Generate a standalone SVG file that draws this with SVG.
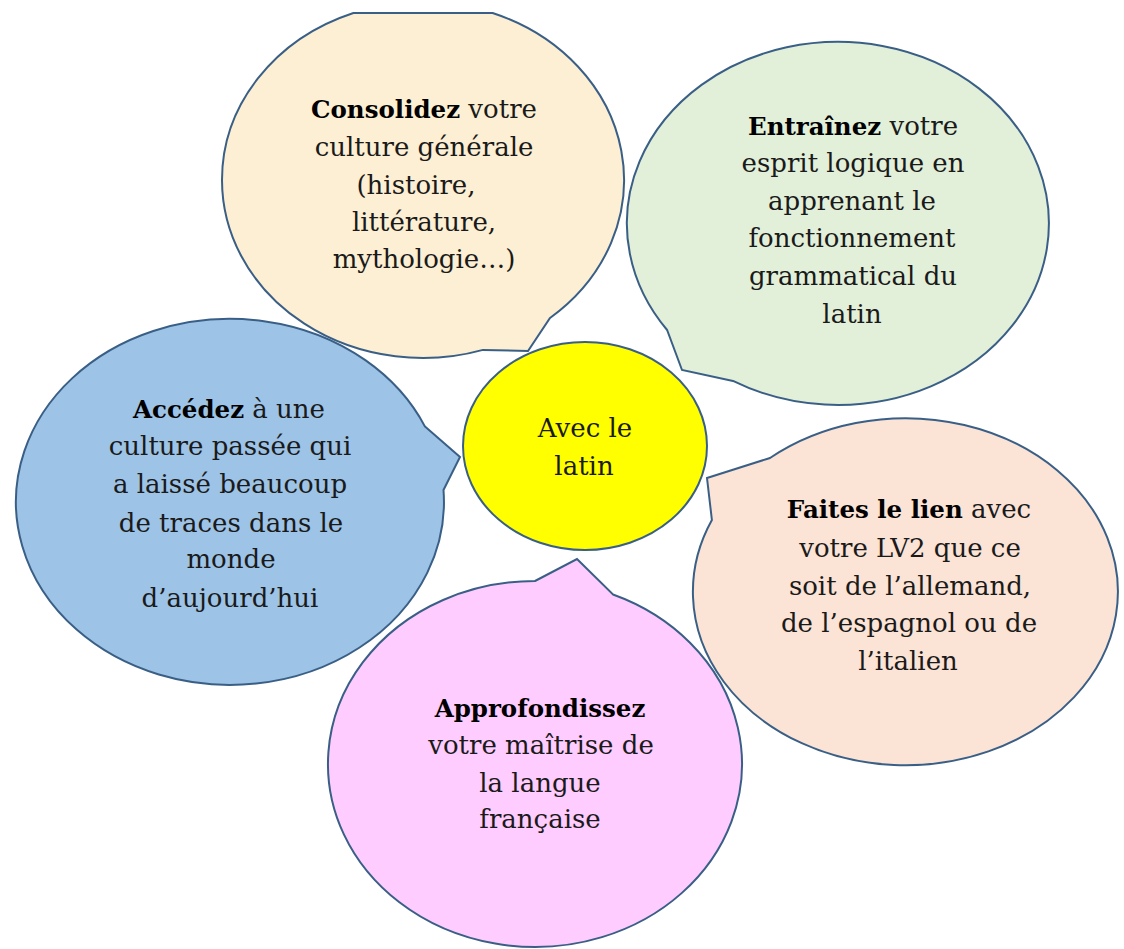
<svg xmlns="http://www.w3.org/2000/svg" width="1124" height="949" viewBox="0 0 1124 949">
<style>
.b{stroke:#3A5F86;stroke-width:2;stroke-linejoin:miter}
.t{font-family:"DejaVu Serif","Liberation Serif",serif;font-size:26px;fill:#1a1a1a;text-anchor:middle}
.k{font-weight:bold;fill:#000;font-size:24.5px}
</style>
<rect width="1124" height="949" fill="#ffffff"/>
<g id="connectors"></g>
<g id="consolidez">
<path class="b" fill="#FDEFD3" d="M353.4,13 L492.6,13 A201,178 0 0 1 550,318 L528,351 L483,349.9 A201,178 0 0 1 222,180 A201,178 0 0 1 353.4,13 Z"/>
<text class="t"><tspan x="424" y="118"><tspan class="k">Consolidez</tspan> votre</tspan><tspan x="424" y="156">culture générale</tspan><tspan x="416" y="194">(histoire,</tspan><tspan x="424" y="231">littérature,</tspan><tspan x="424" y="268">mythologie…)</tspan></text>
</g>
<g id="entrainez">
<path class="b" fill="#E2EFD9" d="M733,380.9 L682,370 L667.1,330 A211,181.5 0 1 1 733,380.9 Z"/>
<text class="t"><tspan x="853" y="135"><tspan class="k">Entraînez</tspan> votre</tspan><tspan x="853" y="172">esprit logique en</tspan><tspan x="852" y="210">apprenant le</tspan><tspan x="852" y="247">fonctionnement</tspan><tspan x="853" y="285">grammatical du</tspan><tspan x="852" y="323">latin</tspan></text>
</g>
<g id="accedez">
<path class="b" fill="#9DC3E6" d="M425,426.6 L460,457 L443.5,490 A214,183 0 1 1 425,426.6 Z"/>
<text class="t"><tspan x="229" y="418"><tspan class="k">Accédez</tspan> à une</tspan><tspan x="230" y="455">culture passée qui</tspan><tspan x="230" y="493">a laissé beaucoup</tspan><tspan x="231" y="532">de traces dans le</tspan><tspan x="231" y="568">monde</tspan><tspan x="230" y="607">d’aujourd’hui</tspan></text>
</g>
<g id="faites">
<path class="b" fill="#FBE3D6" d="M711.9,520 L707,478 L770,458 A212.5,173.5 0 1 1 711.9,520 Z"/>
<text class="t"><tspan x="909" y="518"><tspan class="k">Faites le lien</tspan> avec</tspan><tspan x="910" y="557">votre LV2 que ce</tspan><tspan x="910" y="595">soit de l’allemand,</tspan><tspan x="909" y="632">de l’espagnol ou de</tspan><tspan x="908" y="670">l’italien</tspan></text>
</g>
<g id="approfondissez">
<path class="b" fill="#FFCCFF" d="M535,581 L577,559 L613,594.5 A207,183 0 1 1 535,581 Z"/>
<text class="t"><tspan class="k" x="540" y="717">Approfondissez</tspan><tspan x="541" y="754">votre maîtrise de</tspan><tspan x="540" y="792">la langue</tspan><tspan x="540" y="828">française</tspan></text>
</g>
<g id="avec-le-latin">
<ellipse class="b" fill="#FFFF00" cx="585" cy="446" rx="122" ry="104"/>
<text class="t"><tspan x="585" y="437">Avec le</tspan><tspan x="584" y="475">latin</tspan></text>
</g>
</svg>
